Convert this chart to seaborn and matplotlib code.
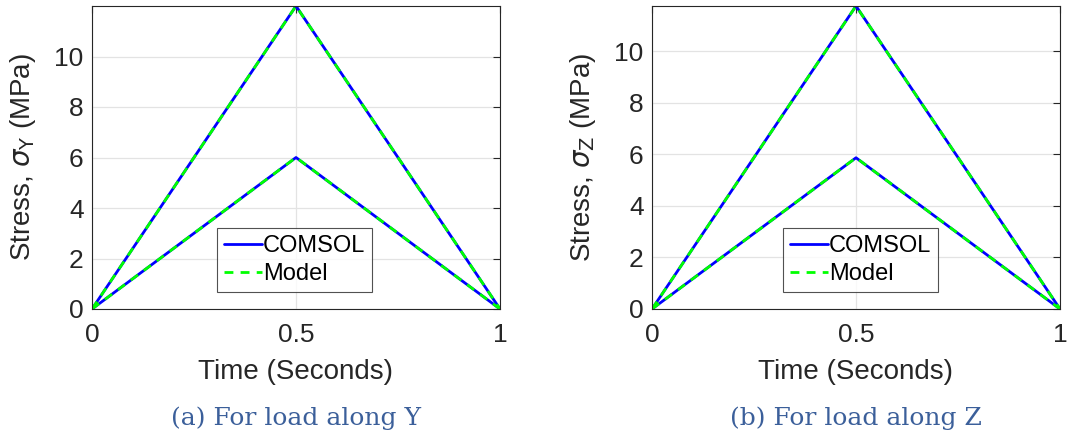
import numpy as np
import pandas as pd
import matplotlib
matplotlib.use("Agg")
import matplotlib.pyplot as plt
import seaborn as sns

time = [0, 0.5, 1]
# load along Y: two load levels
comsol_y_high = [0, 12.0, 0]
comsol_y_low = [0, 6.0, 0]
model_y_high = [0, 12.0, 0]
model_y_low = [0, 6.0, 0]
# load along Z
comsol_z_high = [0, 11.76, 0]
comsol_z_low = [0, 5.87, 0]
model_z_high = [0, 11.76, 0]
model_z_low = [0, 5.87, 0]

panels = [
    ("Y", comsol_y_high, comsol_y_low, model_y_high, model_y_low, 12.0, "(a) For load along Y", 0.306),
    ("Z", comsol_z_high, comsol_z_low, model_z_high, model_z_low, 11.76, "(b) For load along Z", 0.321),
]

sns.set_style("white")
plt.rcParams["font.family"] = ["Liberation Sans", "DejaVu Sans"]
plt.rcParams["mathtext.fontset"] = "dejavusans"

fig = plt.figure(figsize=(10.68, 4.41), dpi=100)
axes = [fig.add_axes([92 / 1068, 1 - 309 / 441, 408 / 1068, 303 / 441]),
        fig.add_axes([652 / 1068, 1 - 309 / 441, 408 / 1068, 303 / 441])]

for ax, (axis, ch, cl, mh, ml, ytop, caption, legx) in zip(axes, panels):
    rows = []
    for src, hi, lo in [("COMSOL", ch, cl), ("Model", mh, ml)]:
        for case, vals in [("high", hi), ("low", lo)]:
            for t, v in zip(time, vals):
                rows.append({"time": t, "stress": v, "source": src, "case": src + case})
    df = pd.DataFrame(rows)
    ax.grid(True, color="#e3e3e3", linewidth=0.9)
    ax.set_axisbelow(True)
    for case in ["high", "low"]:
        sns.lineplot(data=df[df["case"] == "COMSOL" + case], x="time", y="stress",
                     color="#0000ff", linewidth=2.0, ax=ax,
                     label="COMSOL" if case == "high" else None)
    for case in ["high", "low"]:
        sns.lineplot(data=df[df["case"] == "Model" + case], x="time", y="stress",
                     color="#00ff00", linewidth=2.0, linestyle=(0, (3.2, 2.6)), ax=ax,
                     label="Model" if case == "high" else None)
    ax.set_xlim(0, 1)
    ax.set_ylim(0, ytop)
    ax.set_xticks([0, 0.5, 1])
    ax.set_xticklabels(["0", "0.5", "1"])
    ax.set_yticks([0, 2, 4, 6, 8, 10])
    ax.tick_params(direction="in", length=5, width=0.8, labelsize=19, colors="#262626",
                   top=True, right=True, pad=6)
    ax.tick_params(axis="x", pad=10)
    for s in ax.spines.values():
        s.set_visible(True)
        s.set_color("#262626")
        s.set_linewidth(0.8)
    ax.set_xlabel("Time (Seconds)", fontsize=20, color="#262626", labelpad=9)
    ax.set_ylabel(r"Stress, $\sigma_{\mathrm{%s}}$ (MPa)" % axis, fontsize=20, color="#262626", labelpad=12)
    leg = ax.legend(loc="lower left", bbox_to_anchor=(legx, 0.056, 0.38, 0.211), mode="expand",
                    fontsize=17, frameon=True, fancybox=False, handlelength=1.6,
                    handletextpad=0.05, borderpad=0.3, labelspacing=0.25, borderaxespad=0)
    leg.get_frame().set_edgecolor("#262626")
    leg.get_frame().set_linewidth(0.8)
    for txt in leg.get_texts():
        txt.set_color("black")
    bb = ax.get_position()
    fig.text((bb.x0 + bb.x1) / 2, 1 - 418 / 441, caption, ha="center", va="center",
             fontsize=18, color="#3b5f9a", family=["DejaVu Serif"])

fig.savefig("out.png", dpi=100)
